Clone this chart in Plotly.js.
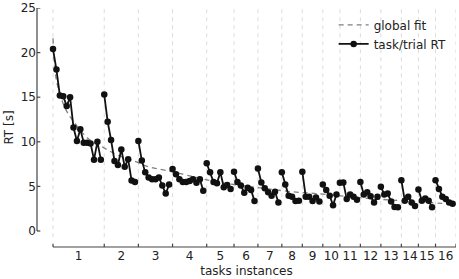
<!DOCTYPE html>
<html>
<head>
<meta charset="utf-8">
<script src="https://cdn.plot.ly/plotly-3.0.1.min.js"></script>
<style>html,body{margin:0;padding:0;background:#fff;}#chart{width:459px;height:279px;}</style>
</head>
<body>
<div id="chart"></div>
<script>
// Per-task trial RTs (seconds)
const task1 = [20.4, 18.1, 15.2, 15.1, 14.0, 15.0, 11.6, 10.1, 11.4, 9.9, 9.9, 9.8, 8.0, 10.0, 8.0];
const task2 = [15.3, 12.25, 10.2, 7.85, 7.4, 9.15, 7.2, 8.05, 5.65, 5.5];
const task3 = [10.1, 7.9, 6.6, 6.0, 5.8, 5.8, 6.0, 5.1, 4.2, 5.2];
const task4 = [6.95, 6.35, 5.8, 5.5, 5.5, 5.6, 5.8, 5.4, 5.8, 4.5];
const task5 = [7.6, 6.6, 5.5, 5.35, 6.6, 4.9, 5.15, 4.7];
const task6 = [6.65, 5.5, 5.1, 4.3, 4.85, 4.6, 3.35];
const task7 = [7.0, 5.45, 4.8, 4.35, 3.95, 4.4, 3.2];
const task8 = [6.6, 5.2, 3.95, 3.85, 3.35, 3.4];
const task9 = [6.65, 3.85, 3.85, 3.35, 3.75, 3.3];
const task10 = [5.2, 4.6, 3.95, 2.9, 4.1];
const task11 = [5.4, 5.45, 3.6, 4.1, 3.85, 3.5];
const task12 = [5.5, 4.1, 4.35, 3.9, 3.2, 3.85];
const task13 = [4.95, 4.1, 4.2, 3.3, 2.7, 2.65];
const task14 = [5.7, 3.4, 3.85, 3.2, 2.8];
const task15 = [4.65, 3.4, 3.65, 3.4, 2.65];
const task16 = [5.7, 4.7, 3.85, 3.6, 3.2, 3.05];
const tasks = [task1, task2, task3, task4, task5, task6, task7, task8, task9, task10, task11, task12, task13, task14, task15, task16];
const taskLabels = ['1','2','3','4','5','6','7','8','9','10','11','12','13','14','15','16'];

// Global fit curve (trial index, RT)
const fitX = [0, 1, 3.4, 5.4, 10.2, 15, 19, 24, 28, 33, 41, 48, 58, 70, 77, 92, 102, 114, 118];
const fitY = [21.6, 16.9, 13.9, 12.6, 10.4, 9.3, 8.5, 7.8, 7.2, 6.8, 6.1, 5.5, 4.97, 4.4, 4.2, 3.66, 3.4, 3.1, 3.0];

const yTicks = [0, 5, 10, 15, 20, 25];

// build series
const rtX = [], rtY = [], starts = [], centers = [];
let idx = 0;
tasks.forEach((t, k) => {
  starts.push(idx);
  centers.push(idx + t.length / 2);
  t.forEach(v => { rtX.push(idx); rtY.push(v); idx++; });
  if (k < tasks.length - 1) { rtX.push(idx - 0.5); rtY.push(null); }
});
const total = idx;
const bounds = starts.concat([total]);

const shapes = [];
// task boundary dashed lines
bounds.forEach(b => shapes.push({type:'line', xref:'x', yref:'y', x0:b, x1:b, y0:-0.7, y1:25,
  line:{color:'#dcdcdc', width:1, dash:'4px,4px'}, layer:'below'}));
// y spine
shapes.push({type:'line', xref:'paper', yref:'y', x0:0, x1:0, y0:0, y1:25, line:{color:'#444', width:1.2}});
yTicks.forEach(v => shapes.push({type:'line', xref:'paper', yref:'y', x0:0, x1:0.008, y0:v, y1:v, line:{color:'#444', width:1.2}}));
// x spine
shapes.push({type:'line', xref:'x', yref:'paper', x0:0, x1:total, y0:0, y1:0, line:{color:'#444', width:1.2}});
bounds.forEach(b => shapes.push({type:'line', xref:'x', yref:'paper', x0:b, x1:b, y0:0, y1:0.014, line:{color:'#444', width:1.2}}));

const font = {family:'DejaVu Sans, sans-serif', size:12, color:'#222'};

const data = [
  {x: fitX, y: fitY, type:'scatter', mode:'lines', name:'global fit', line:{color:'#808080', width:1.3, dash:'5px,4px', shape:'spline'}},
  {x: rtX, y: rtY, type:'scatter', mode:'lines+markers', name:'task/trial RT', connectgaps:false,
   line:{color:'#111', width:1.8}, marker:{color:'#111', size:6.5}}
];

const layout = {
  width:459, height:279,
  margin:{l:37, r:3, t:8, b:32, pad:0},
  paper_bgcolor:'#fff', plot_bgcolor:'#fff',
  font: font,
  showlegend:true,
  legend:{x:0.708, y:0.99, xanchor:'left', yanchor:'top', bgcolor:'rgba(0,0,0,0)', font:{family:'DejaVu Sans, sans-serif', size:12, color:'#222'}, tracegroupgap:0, itemwidth:30},
  xaxis:{range:[-4.69, total], showgrid:false, zeroline:false, showline:false, ticks:'', tickangle:0,
    tickmode:'array', tickvals:centers, ticktext:taskLabels, tickfont:font,
    title:{text:'tasks instances', font:font, standoff:4}, automargin:false},
  yaxis:{range:[-1.794, 25], showgrid:false, zeroline:false, showline:false, ticks:'',
    tickmode:'array', tickvals:yTicks, ticktext:yTicks.map(String), tickfont:font,
    title:{text:'RT [s]', font:font, standoff:4}, automargin:false},
  shapes: shapes
};

Plotly.newPlot('chart', data, layout, {displayModeBar:false, staticPlot:true});
</script>
</body>
</html>
